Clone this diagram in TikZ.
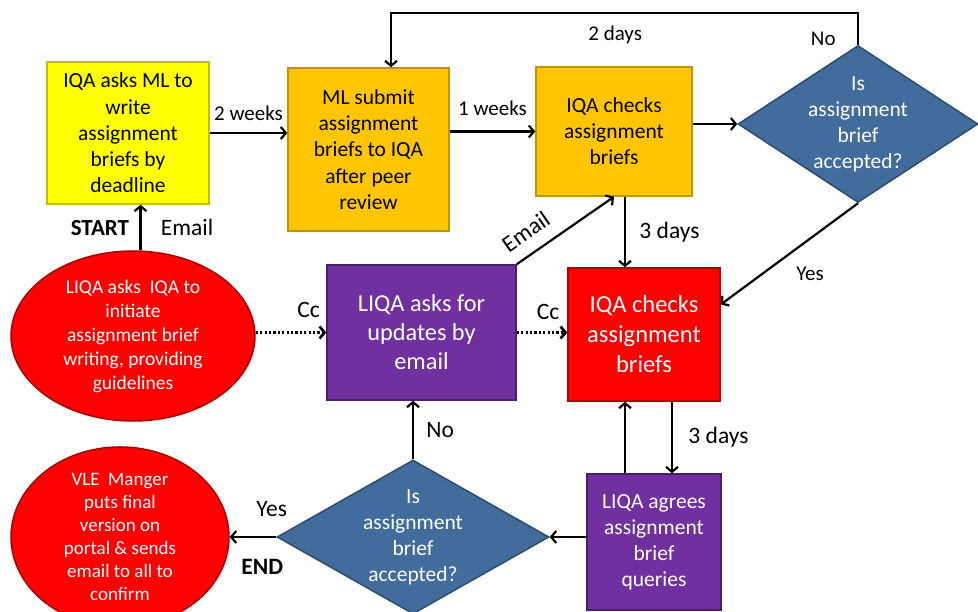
\documentclass[tikz,border=0pt]{standalone}
\usepackage{fontspec}
\setmainfont{Carlito}
\usetikzlibrary{shapes}
\usetikzlibrary{arrows.meta}
\definecolor{boxyellow}{RGB}{255,255,0}
\definecolor{boxgold}{RGB}{255,198,0}
\definecolor{decblue}{RGB}{65,108,155}
\definecolor{liqapurple}{RGB}{112,48,160}
\definecolor{iqared}{RGB}{255,0,0}

\begin{document}
\begin{tikzpicture}[x=1pt,y=-1pt,line width=2.2pt,
    >={Straight Barb[length=5pt,width=12pt]},
    stepbox/.style={rectangle,align=center,inner sep=2pt,line width=1.5pt},
    decision/.style={diamond,align=center,inner sep=-14pt,line width=1.5pt,
      fill=decblue,draw=decblue!70!black,text=white,
      font=\fontsize{21.5}{26}\selectfont},
    oval/.style={ellipse,align=center,inner sep=0pt,line width=1.5pt,
      fill=iqared,draw=iqared!65!black,text=white,
      font=\fontsize{19.5}{24}\selectfont},
    cc/.style={->,line width=2.6pt,dash pattern=on 2.2pt off 2.2pt},
    lbl/.style={font=\fontsize{21}{25}\selectfont},
    lblbig/.style={font=\fontsize{23.5}{28}\selectfont}]
    \useasboundingbox (0,0) rectangle (978,612);
    % top row
    \node[stepbox,fill=boxyellow,draw=boxyellow!75!black,minimum width=162pt,minimum height=142pt,
      font=\fontsize{21.5}{26.3}\selectfont] (ask) at (128,133)
      {IQA asks ML to\\write\\assignment\\briefs by\\deadline};
    \node[stepbox,fill=boxgold,draw=boxgold!75!black,minimum width=161pt,minimum height=163pt,
      font=\fontsize{21.5}{26.3}\selectfont] (submit) at (368.5,149.5)
      {ML submit\\assignment\\briefs to IQA\\after peer\\review};
    \node[stepbox,fill=boxgold,draw=boxgold!75!black,minimum width=156pt,minimum height=129pt,
      font=\fontsize{21.5}{26}\selectfont] (check1) at (614,131.5)
      {IQA checks\\assignment\\briefs};
    \node[decision,minimum width=240pt,minimum height=157pt] (dec1) at (858,124)
      {Is\\assignment\\brief\\accepted?};
    % middle row
    \node[oval,minimum width=244pt,minimum height=170pt] (start) at (133,336)
      {LIQA asks\ \ IQA to\\initiate\\assignment brief\\writing, providing\\guidelines};
    \node[stepbox,fill=liqapurple,draw=liqapurple!65!black,text=white,minimum width=189pt,minimum height=135pt,
      font=\fontsize{24.3}{29}\selectfont] (upd) at (421.5,332.5)
      {LIQA asks for\\updates by\\email};
    \node[stepbox,fill=iqared,draw=iqared!70!black,text=white,minimum width=152pt,minimum height=133pt,
      font=\fontsize{24.5}{30}\selectfont] (check2) at (644,334.5)
      {IQA checks\\assignment\\briefs};
    % bottom row
    \node[oval,minimum width=218pt,minimum height=160pt,font=\fontsize{19}{23}\selectfont] (final) at (120,537)
      {VLE\ \ Manger\\puts final\\version on\\portal \& sends\\email to all to\\confirm};
    \node[decision,minimum width=272pt,minimum height=154pt] (dec2) at (413,537)
      {Is\\assignment\\brief\\accepted?};
    \node[stepbox,fill=liqapurple,draw=liqapurple!65!black,text=white,minimum width=134pt,minimum height=136pt,
      font=\fontsize{21.5}{26}\selectfont] (agree) at (654,542)
      {LIQA agrees\\assignment\\brief\\queries};
    \coordinate (loop) at (391,13);

    \draw[->] (ask.east) -- (ask.east -| submit.west) node[lbl,midway,above=8pt] {2 weeks};
    \draw[->] (submit.east |- check1.west) -- (check1.west) node[lbl,midway,above=11pt] {1 weeks};
    \draw[->] (check1.east |- dec1.west) -- (dec1.west);
    \draw[->] (dec1.north) |- (loop) node[lbl,pos=.1,left=18pt] {No}
      node[lbl,pos=.76,below=8pt] {2 days} -- (loop |- submit.north);
    \draw[->] (dec1.south) -- ([yshift=30pt]check2.east) node[lbl,pos=.7,right=30pt] {Yes};
    \draw[->] ([xshift=-19pt]check2.north |- check1.south) -- ([xshift=-19pt]check2.north)
      node[lblbig,midway,right=10pt] {3 days};
    \draw[->] (start.85) -- (start.85 |- ask.south)
      node[lblbig,midway,right=16pt] {Email}
      node[lblbig,midway,left=7pt,font=\fontsize{23}{28}\selectfont\bfseries] {START};
    \draw[->] (upd.north east) -- (check1.south) node[lblbig,pos=.22,sloped,above=9pt] {Email};
    \draw[cc] (upd.west -| start.east) -- (upd.west) node[lblbig,pos=.75,above=10pt] {Cc};
    \draw[cc] (upd.east) -- (upd.east -| check2.west) node[lblbig,pos=.62,above=8pt] {Cc};
    \draw[->] ([xshift=-29pt]agree.north) -- ([xshift=-29pt]agree.north |- check2.south);
    \draw[->] ([xshift=28pt]check2.south) -- ([xshift=28pt]check2.south |- agree.north)
      node[lblbig,midway,right=12pt] {3 days};
    \draw[->] (agree.west |- dec2.east) -- (dec2.east);
    \draw[->] (dec2.north) -- (dec2.north |- upd.south) node[lblbig,midway,right=9pt] {No};
    \draw[->] (dec2.west) -- (dec2.west -| final.east)
      node[lblbig,pos=.1,above=16pt] {Yes}
      node[lblbig,pos=.3,below=18pt,font=\fontsize{23.5}{28}\selectfont\bfseries] {END};
\end{tikzpicture}
\end{document}
